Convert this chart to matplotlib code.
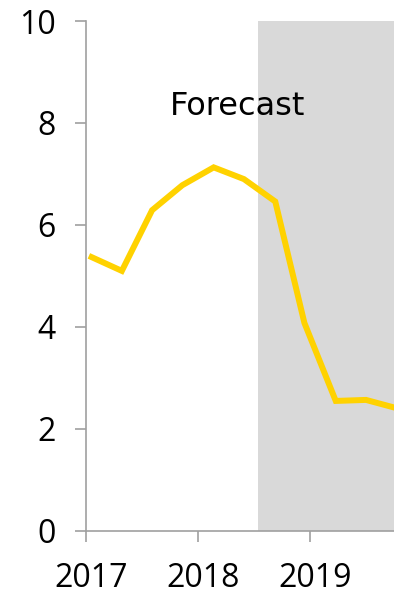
import matplotlib
matplotlib.use("Agg")
import matplotlib.pyplot as plt
import matplotlib.transforms as mtransforms

# Quarterly values (decimal year, value)
quarters = [2017.05, 2017.32, 2017.59, 2017.86, 2018.14, 2018.41,
            2018.69, 2018.95, 2019.23, 2019.50, 2019.77]
values = [5.37, 5.10, 6.29, 6.78, 7.13, 6.90, 6.46, 4.08, 2.55, 2.57, 2.41]

forecast_start = 2018.54
year_ticks = [2017, 2018, 2019]
y_ticks = [0, 2, 4, 6, 8, 10]

plt.rcParams['font.family'] = ['Open Sans', 'DejaVu Sans']

fig = plt.figure(figsize=(3.94, 5.95), dpi=100)
ax = fig.add_axes([0.2183, 0.1076, 0.7817, 0.8571])

# Zona de previsão em cinza
ax.axvspan(forecast_start, 2019.75, color='#d9d9d9', lw=0, zorder=0)

ax.plot(quarters, values, color='#ffd200', lw=4.3, solid_joinstyle='miter',
        zorder=3, clip_on=True)

ax.text(2018.355, 8.33, 'Forecast', fontsize=23, ha='center', va='center',
        family='DejaVu Sans')

ax.set_xlim(2017, 2019.75)
ax.set_ylim(0, 10)
ax.set_xticks(year_ticks)
ax.set_xticklabels([str(y) for y in year_ticks])
ax.set_yticks(y_ticks)

for s in ['top', 'right']:
    ax.spines[s].set_visible(False)
for s in ['left', 'bottom']:
    ax.spines[s].set_color('#a0a0a0')
    ax.spines[s].set_linewidth(1.2)

ax.tick_params(axis='both', colors='#a0a0a0', labelcolor='black',
               labelsize=23, length=8, width=1.2)
ax.tick_params(axis='y', pad=14)
ax.tick_params(axis='x', pad=14)

# anos ligeiramente deslocados para a direita
shift = mtransforms.ScaledTranslation(5 / 100, 0, fig.dpi_scale_trans)
for lbl in ax.get_xticklabels():
    lbl.set_transform(lbl.get_transform() + shift)

fig.savefig('out.png', dpi=100)
